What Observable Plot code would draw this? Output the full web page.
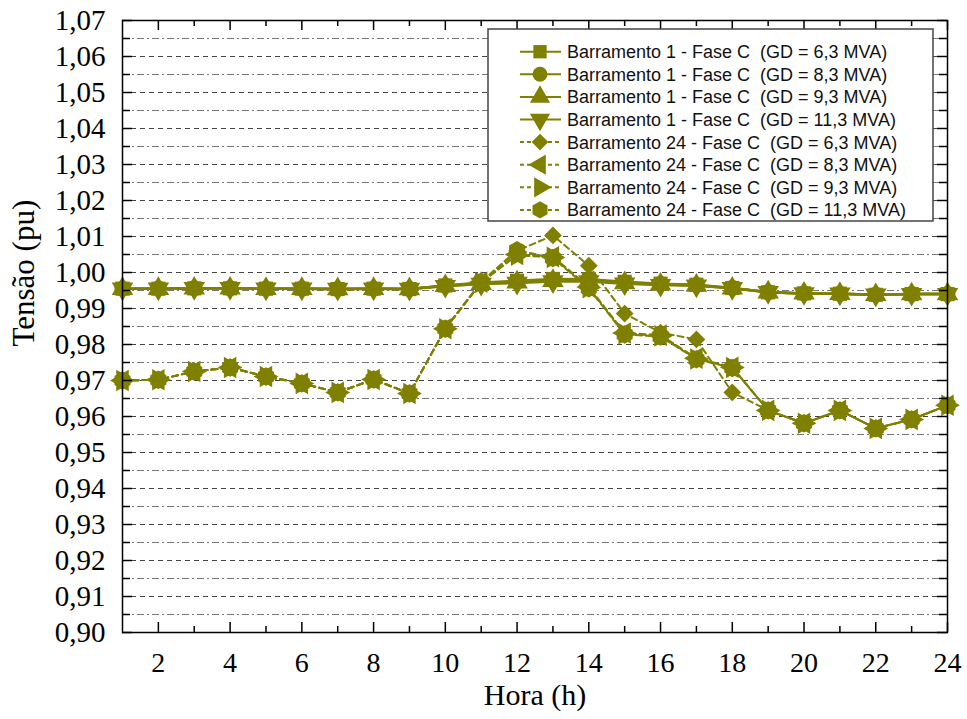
<!DOCTYPE html>
<html><head><meta charset="utf-8">
<script src="https://cdn.jsdelivr.net/npm/d3@7"></script>
<script src="https://cdn.jsdelivr.net/npm/@observablehq/plot@0.6"></script>
<style>body{margin:0;background:#fff;} #chart{width:967px;height:719px;}</style>
</head><body><div id="chart"></div>
<script>
// ---------- data ----------
const hours = d3.range(1, 25);
const yMajorTicks = d3.range(0, 18).map(i => +(0.90 + i * 0.01).toFixed(2));
const yMinorTicks = d3.range(0, 17).map(i => +(0.905 + i * 0.01).toFixed(3));
const xMajorTicks = [2, 4, 6, 8, 10, 12, 14, 16, 18, 20, 22, 24];
const xMinorTicks = [3, 5, 7, 9, 11, 13, 15, 17, 19, 21, 23];

const seriesNames = [
  "Barramento 1 - Fase C  (GD = 6,3 MVA)",
  "Barramento 1 - Fase C  (GD = 8,3 MVA)",
  "Barramento 1 - Fase C  (GD = 9,3 MVA)",
  "Barramento 1 - Fase C  (GD = 11,3 MVA)",
  "Barramento 24 - Fase C  (GD = 6,3 MVA)",
  "Barramento 24 - Fase C  (GD = 8,3 MVA)",
  "Barramento 24 - Fase C  (GD = 9,3 MVA)",
  "Barramento 24 - Fase C  (GD = 11,3 MVA)"
];

const b1_63  = [0.9955,0.9955,0.9956,0.9956,0.9955,0.9955,0.9954,0.9955,0.9954,0.9964,0.9972,0.9977,0.9982,0.9981,0.9974,0.9969,0.9966,0.9957,0.9945,0.9942,0.9941,0.9938,0.9940,0.9940];
const b1_83  = [0.9955,0.9955,0.9956,0.9956,0.9955,0.9955,0.9954,0.9955,0.9954,0.9963,0.9970,0.9975,0.9979,0.9979,0.9972,0.9968,0.9965,0.9957,0.9945,0.9942,0.9941,0.9938,0.9940,0.9940];
const b1_93  = [0.9955,0.9955,0.9956,0.9956,0.9955,0.9955,0.9954,0.9955,0.9954,0.9963,0.9969,0.9973,0.9977,0.9977,0.9971,0.9967,0.9964,0.9956,0.9945,0.9942,0.9941,0.9938,0.9940,0.9940];
const b1_113 = [0.9955,0.9955,0.9956,0.9956,0.9955,0.9955,0.9954,0.9955,0.9954,0.9962,0.9968,0.9971,0.9975,0.9975,0.9969,0.9965,0.9963,0.9956,0.9945,0.9942,0.9941,0.9938,0.9940,0.9940];

const b24_63  = [0.9700,0.9702,0.9725,0.9736,0.9711,0.9692,0.9667,0.9703,0.9664,0.9844,0.9972,1.0060,1.0103,1.0019,0.9886,0.9833,0.9814,0.9667,0.9617,0.9581,0.9617,0.9567,0.9592,0.9631];
const b24_83  = [0.9700,0.9702,0.9725,0.9736,0.9711,0.9692,0.9667,0.9703,0.9664,0.9844,0.9973,1.0050,1.0044,0.9960,0.9832,0.9826,0.9762,0.9737,0.9617,0.9581,0.9617,0.9567,0.9592,0.9631];
const b24_93  = [0.9700,0.9702,0.9725,0.9736,0.9711,0.9692,0.9667,0.9703,0.9664,0.9844,0.9972,1.0048,1.0042,0.9958,0.9830,0.9824,0.9760,0.9736,0.9617,0.9581,0.9617,0.9567,0.9592,0.9631];
const b24_113 = [0.9700,0.9702,0.9725,0.9736,0.9711,0.9692,0.9667,0.9703,0.9664,0.9844,0.9974,1.0062,1.0040,0.9956,0.9828,0.9822,0.9759,0.9735,0.9617,0.9581,0.9617,0.9567,0.9592,0.9631];

const seriesValues = [b1_63, b1_83, b1_93, b1_113, b24_63, b24_83, b24_93, b24_113];

// ---------- symbols ----------
const sqrt3 = Math.sqrt(3);
function triSymbol(map) {
  return {draw(ctx, size) {
    const y = -Math.sqrt(size / (sqrt3 * 3));
    const pts = [[0, y * 2], [-sqrt3 * y, -y], [sqrt3 * y, -y]].map(map);
    ctx.moveTo(pts[0][0], pts[0][1]);
    ctx.lineTo(pts[1][0], pts[1][1]);
    ctx.lineTo(pts[2][0], pts[2][1]);
    ctx.closePath();
  }};
}
const symUp = triSymbol(([x, y]) => [x, y]);
const symDown = triSymbol(([x, y]) => [x, -y]);
const symLeft = triSymbol(([x, y]) => [y, x]);
const symRight = triSymbol(([x, y]) => [-y, x]);
const symHex = {draw(ctx, size) {
  const rx = Math.sqrt(size / Math.PI), ry = rx * 2 / sqrt3, hy = ry / 2;
  ctx.moveTo(0, ry); ctx.lineTo(rx, hy); ctx.lineTo(rx, -hy);
  ctx.lineTo(0, -ry); ctx.lineTo(-rx, -hy); ctx.lineTo(-rx, hy); ctx.closePath();
}};
const symbols = [d3.symbolSquare, d3.symbolCircle, symUp, symDown, d3.symbolDiamond2, symLeft, symRight, symHex];

const olive = "#808000";
const serif = "Liberation Serif";
const W = 967, H = 719, mL = 122, mR = 20, mT = 20, mB = 87;
const fw = W - mL - mR, fh = H - mT - mB;
const R = 8;

const tables = seriesValues.map((vals, i) => hours.map((h, j) => ({hour: h, value: vals[j], series: seriesNames[i]})));

const marks = [
  Plot.ruleY(yMinorTicks, {y: d => d, stroke: "#777", strokeWidth: 1, strokeDasharray: "7,3,2,3"}),
  Plot.ruleY(yMajorTicks.slice(1, -1), {y: d => d, stroke: "#444", strokeWidth: 1, strokeDasharray: "5,4"})
];
for (let i = 4; i < 8; i++) marks.push(Plot.line(tables[i], {x: "hour", y: "value", stroke: olive, strokeWidth: 2, strokeDasharray: "6,4"}));
for (let i = 0; i < 4; i++) marks.push(Plot.line(tables[i], {x: "hour", y: "value", stroke: olive, strokeWidth: 2.5}));
for (let i = 0; i < 8; i++) marks.push(Plot.dot(tables[i], {x: "hour", y: "value", symbol: symbols[i], r: R, fill: olive, stroke: "none"}));

marks.push(
  Plot.frame({stroke: "black", strokeWidth: 1.5}),
  Plot.tickY(yMajorTicks, {y: d => d, insetRight: fw - 10, stroke: "black", strokeWidth: 1.5}),
  Plot.tickY(yMinorTicks, {y: d => d, insetRight: fw - 8, stroke: "black", strokeWidth: 1.5}),
  Plot.tickY(yMajorTicks, {y: d => d, insetLeft: fw - 10, stroke: "black", strokeWidth: 1.5}),
  Plot.tickY(yMinorTicks, {y: d => d, insetLeft: fw - 8, stroke: "black", strokeWidth: 1.5}),
  Plot.tickX(xMajorTicks, {x: d => d, insetTop: fh - 10, stroke: "black", strokeWidth: 1.5}),
  Plot.tickX(xMinorTicks, {x: d => d, insetTop: fh - 6, stroke: "black", strokeWidth: 1.5}),
  Plot.tickX(xMajorTicks, {x: d => d, insetBottom: fh - 10, stroke: "black", strokeWidth: 1.5}),
  Plot.tickX(xMinorTicks, {x: d => d, insetBottom: fh - 6, stroke: "black", strokeWidth: 1.5}),
  Plot.axisX(xMajorTicks, {anchor: "bottom", tickSize: 0, tickPadding: 20, fontSize: 28, fontFamily: serif, tickFormat: d => String(d), label: null}),
  Plot.axisY(yMajorTicks, {anchor: "left", tickSize: 0, tickPadding: 17, fontSize: 29, fontFamily: serif, tickFormat: d => d.toFixed(2).replace(".", ","), label: null}),
  Plot.text(["Hora (h)"], {frameAnchor: "bottom", dy: 72, fontSize: 30, fontFamily: serif, fill: "black"}),
  Plot.text(["Tensão (pu)"], {frameAnchor: "left", dx: -98, dy: 20, rotate: -90, fontSize: 31, fontFamily: serif, fill: "black"})
);

const plot = Plot.plot({
  width: W, height: H,
  marginLeft: mL, marginRight: mR, marginTop: mT, marginBottom: mB,
  x: {domain: [1, 24], axis: null},
  y: {domain: [0.90, 1.07], axis: null},
  style: {background: "white", color: "black"},
  marks
});

// ---------- legend ----------
const svg = d3.select(plot);
const lg = svg.append("g").attr("font-family", "Liberation Sans, Arial, sans-serif").attr("font-size", 18).attr("text-anchor", "start");
lg.append("rect").attr("x", 488).attr("y", 29).attr("width", 445).attr("height", 192)
  .attr("fill", "white").attr("stroke", "#444").attr("stroke-width", 1.5);
seriesNames.forEach((name, i) => {
  const cy = 51.7 + i * 22.6;
  lg.append("line").attr("x1", 520).attr("x2", 561).attr("y1", cy).attr("y2", cy)
    .attr("stroke", olive).attr("stroke-width", 2)
    .attr("stroke-dasharray", i >= 4 ? "4,3" : null);
  lg.append("path").attr("d", d3.symbol(symbols[i], Math.PI * 7.5 * 7.5)())
    .attr("transform", `translate(540,${cy})`).attr("fill", olive);
  lg.append("text").attr("x", 567).attr("y", cy).attr("dy", "0.36em")
    .style("white-space", "pre").attr("fill", "#111").text(name);
});

document.getElementById("chart").appendChild(plot);
</script>
</body></html>
